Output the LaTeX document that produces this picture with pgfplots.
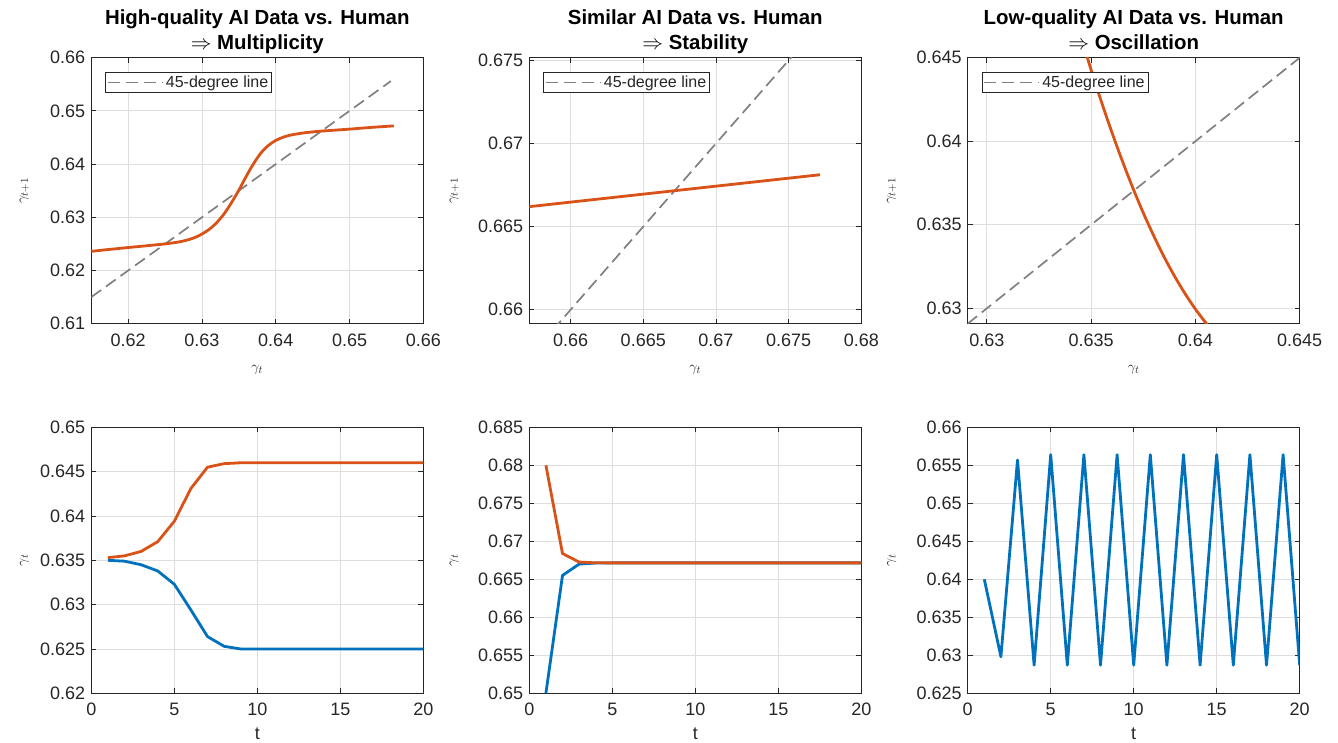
\documentclass[border=0pt]{standalone}
\usepackage{fontspec}
\setmainfont{Liberation Sans}
\usepackage{pgfplots}
\pgfplotsset{compat=1.18}

\definecolor{morange}{RGB}{217,83,25}
\definecolor{mblue}{RGB}{0,114,189}
\definecolor{axgray}{RGB}{38,38,38}
\definecolor{gridgray}{RGB}{222,222,222}
\definecolor{diaggray}{RGB}{128,128,128}

\pgfplotsset{
  panel/.style={
    scale only axis, width=332pt, height=266pt,
    axis line style={axgray, line width=0.9pt},
    tick style={axgray, line width=0.8pt},
    major tick length=5pt,
    tick align=inside,
    grid=major,
    major grid style={gridgray, line width=0.8pt},
    ticklabel style={font=\fontsize{18}{20}\selectfont, text=axgray},
    yticklabel style={xshift=-2.6pt},
    xticklabel style={yshift=-6.3pt},
    clip mode=individual,
    label style={text=axgray},
    legend style={at={(axis description cs:0,1)}, anchor=north west,
      xshift=14pt, yshift=-14.3pt, draw=axgray, line width=0.8pt,
      fill=white, font=\fontsize{16}{18}\selectfont, text=axgray,
      inner xsep=1pt, inner ysep=1pt, nodes={inner sep=2.5pt}},
    legend image code/.code={\draw[#1] (0pt,0pt) -- (55pt,0pt);},
  },
  diag/.style={diaggray, line width=1.7pt, dash pattern=on 12pt off 6pt},
  curve/.style={line width=2.8pt, line join=round},
  gxlabel/.style={xlabel style={at={(axis description cs:0.5,-0.173)}, anchor=center,
      font=\fontsize{15}{17}\selectfont}},
  tlabel/.style={xlabel style={at={(axis description cs:0.5,-0.1527)}, anchor=center,
      font=\fontsize{18}{20}\selectfont}},
  gylabel/.style={ylabel style={at={(axis description cs:#1,0.5)}, anchor=center,
      font=\fontsize{15}{17}\selectfont}},
}
\newcommand{\paneltitle}[2]{%
  \node[anchor=base, text=black, font=\bfseries\fontsize{20.4}{24}\selectfont, yshift=32.7pt]
    at (axis description cs:0.5,1) {#1};
  \node[anchor=base, text=black, font=\bfseries\fontsize{20.4}{24}\selectfont, yshift=8.4pt]
    at (axis description cs:0.5,1) {#2};
}

\begin{document}
\begin{tikzpicture}
\useasboundingbox (0,0) rectangle (1338pt,742pt);

% ---------- top row: gamma_{t+1} against gamma_t ----------
\begin{axis}[panel, at={(91.3pt,418.3pt)}, anchor=south west,
  xmin=0.615, xmax=0.66, ymin=0.61, ymax=0.66,
  xtick={0.62,0.63,0.64,0.65,0.66}, xticklabels={0.62,0.63,0.64,0.65,0.66},
  ytick={0.61,0.62,0.63,0.64,0.65,0.66}, yticklabels={0.61,0.62,0.63,0.64,0.65,0.66},
  gxlabel, gylabel=-0.2018, xlabel={$\gamma_t$}, ylabel={$\gamma_{t+1}$}]
\addplot[diag] coordinates {(0.615,0.615) (0.6556,0.6556)};
\addlegendentry{45-degree line}
\addplot[morange, curve, smooth, forget plot] coordinates {
 (0.615,0.62360) (0.617,0.62390) (0.619,0.62418) (0.621,0.62445) (0.623,0.62472)
 (0.625,0.62500) (0.626,0.62518) (0.627,0.62540) (0.628,0.62572) (0.629,0.62618)
 (0.630,0.62685) (0.631,0.62775) (0.632,0.62900) (0.633,0.63065) (0.634,0.63275)
 (0.635,0.63510) (0.636,0.63770) (0.637,0.64010) (0.638,0.64210) (0.639,0.64350)
 (0.640,0.64445) (0.641,0.64505) (0.642,0.64545) (0.643,0.64570) (0.644,0.64590)
 (0.645,0.64605) (0.646,0.64618) (0.648,0.64638) (0.650,0.64657) (0.652,0.64680)
 (0.654,0.64700) (0.656,0.64718)};
\paneltitle{High-quality AI Data vs. Human}{$\Rightarrow$ Multiplicity}
\end{axis}

\begin{axis}[panel, at={(529.3pt,418.3pt)}, anchor=south west,
  xmin=0.65716, xmax=0.68, ymin=0.65916, ymax=0.67516,
  xtick={0.66,0.665,0.67,0.675,0.68}, xticklabels={0.66,0.665,0.67,0.675,0.68},
  ytick={0.66,0.665,0.67,0.675}, yticklabels={0.66,0.665,0.67,0.675},
  gxlabel, gylabel=-0.226, xlabel={$\gamma_t$}, ylabel={$\gamma_{t+1}$}]
\addplot[diag] coordinates {(0.65716,0.65716) (0.67716,0.67716)};
\addlegendentry{45-degree line}
\addplot[morange, curve, forget plot] coordinates {
 (0.65716,0.66620) (0.66216,0.66668) (0.66716,0.66716) (0.67216,0.66764) (0.67716,0.66812)};
\paneltitle{Similar AI Data vs. Human}{$\Rightarrow$ Stability}
\end{axis}

\begin{axis}[panel, at={(967.7pt,418.3pt)}, anchor=south west,
  xmin=0.62908, xmax=0.645, ymin=0.62908, ymax=0.645,
  xtick={0.63,0.635,0.64,0.645}, xticklabels={0.63,0.635,0.64,0.645},
  ytick={0.63,0.635,0.64,0.645}, yticklabels={0.63,0.635,0.64,0.645},
  gxlabel, gylabel=-0.229, xlabel={$\gamma_t$}, ylabel={$\gamma_{t+1}$}]
\addplot[diag] coordinates {(0.62908,0.62908) (0.645,0.645)};
\addlegendentry{45-degree line}
\addplot[morange, curve, smooth, forget plot] coordinates {
 (0.6345,0.64630) (0.6350,0.64426) (0.6355,0.64233) (0.6360,0.64051) (0.6365,0.63880)
 (0.6370,0.63720) (0.6375,0.63571) (0.6380,0.63434) (0.6385,0.63307) (0.6390,0.63192)
 (0.6395,0.63088) (0.6400,0.62995) (0.6405,0.62913) (0.6410,0.62842)};
\paneltitle{Low-quality AI Data vs. Human}{$\Rightarrow$ Oscillation}
\end{axis}

% ---------- bottom row: gamma_t over time ----------
\begin{axis}[panel, at={(91.3pt,48.7pt)}, anchor=south west,
  xmin=0, xmax=20, ymin=0.62, ymax=0.65,
  xtick={0,5,10,15,20}, xticklabels={0,5,10,15,20},
  ytick={0.62,0.625,0.63,0.635,0.64,0.645,0.65},
  yticklabels={0.62,0.625,0.63,0.635,0.64,0.645,0.65},
  tlabel, gylabel=-0.2018, xlabel={t}, ylabel={$\gamma_t$}]
\addplot[mblue, curve] coordinates {
 (1,0.6350) (2,0.6349) (3,0.6345) (4,0.6338) (5,0.6323) (6,0.6294) (7,0.6264)
 (8,0.6253) (9,0.6250) (10,0.6250) (11,0.6250) (12,0.6250) (13,0.6250) (14,0.6250)
 (15,0.6250) (16,0.6250) (17,0.6250) (18,0.6250) (19,0.6250) (20,0.6250)};
\addplot[morange, curve] coordinates {
 (1,0.6353) (2,0.6355) (3,0.6360) (4,0.6371) (5,0.6394) (6,0.6431) (7,0.6455)
 (8,0.6459) (9,0.6460) (10,0.6460) (11,0.6460) (12,0.6460) (13,0.6460) (14,0.6460)
 (15,0.6460) (16,0.6460) (17,0.6460) (18,0.6460) (19,0.6460) (20,0.6460)};
\end{axis}

\begin{axis}[panel, at={(529.3pt,48.7pt)}, anchor=south west,
  xmin=0, xmax=20, ymin=0.65, ymax=0.685,
  xtick={0,5,10,15,20}, xticklabels={0,5,10,15,20},
  ytick={0.65,0.655,0.66,0.665,0.67,0.675,0.68,0.685},
  yticklabels={0.65,0.655,0.66,0.665,0.67,0.675,0.68,0.685},
  tlabel, gylabel=-0.226, xlabel={t}, ylabel={$\gamma_t$}]
\addplot[mblue, curve] coordinates {
 (1,0.65000) (2,0.66551) (3,0.66700) (4,0.66714) (5,0.66716) (6,0.66716) (7,0.66716)
 (8,0.66716) (9,0.66716) (10,0.66716) (11,0.66716) (12,0.66716) (13,0.66716)
 (14,0.66716) (15,0.66716) (16,0.66716) (17,0.66716) (18,0.66716) (19,0.66716) (20,0.66716)};
\addplot[morange, curve] coordinates {
 (1,0.68000) (2,0.66839) (3,0.66727) (4,0.66717) (5,0.66716) (6,0.66716) (7,0.66716)
 (8,0.66716) (9,0.66716) (10,0.66716) (11,0.66716) (12,0.66716) (13,0.66716)
 (14,0.66716) (15,0.66716) (16,0.66716) (17,0.66716) (18,0.66716) (19,0.66716) (20,0.66716)};
\end{axis}

\begin{axis}[panel, at={(967.7pt,48.7pt)}, anchor=south west,
  xmin=0, xmax=20, ymin=0.625, ymax=0.66,
  xtick={0,5,10,15,20}, xticklabels={0,5,10,15,20},
  ytick={0.625,0.63,0.635,0.64,0.645,0.65,0.655,0.66},
  yticklabels={0.625,0.63,0.635,0.64,0.645,0.65,0.655,0.66},
  tlabel, gylabel=-0.229, xlabel={t}, ylabel={$\gamma_t$}]
\addplot[mblue, curve] coordinates {
 (1,0.6400) (2,0.6298) (3,0.6557) (4,0.6287) (5,0.6564) (6,0.6287) (7,0.6564)
 (8,0.6287) (9,0.6564) (10,0.6287) (11,0.6564) (12,0.6287) (13,0.6564) (14,0.6287)
 (15,0.6564) (16,0.6287) (17,0.6564) (18,0.6287) (19,0.6564) (20,0.6287)};
\end{axis}
\end{tikzpicture}
\end{document}
